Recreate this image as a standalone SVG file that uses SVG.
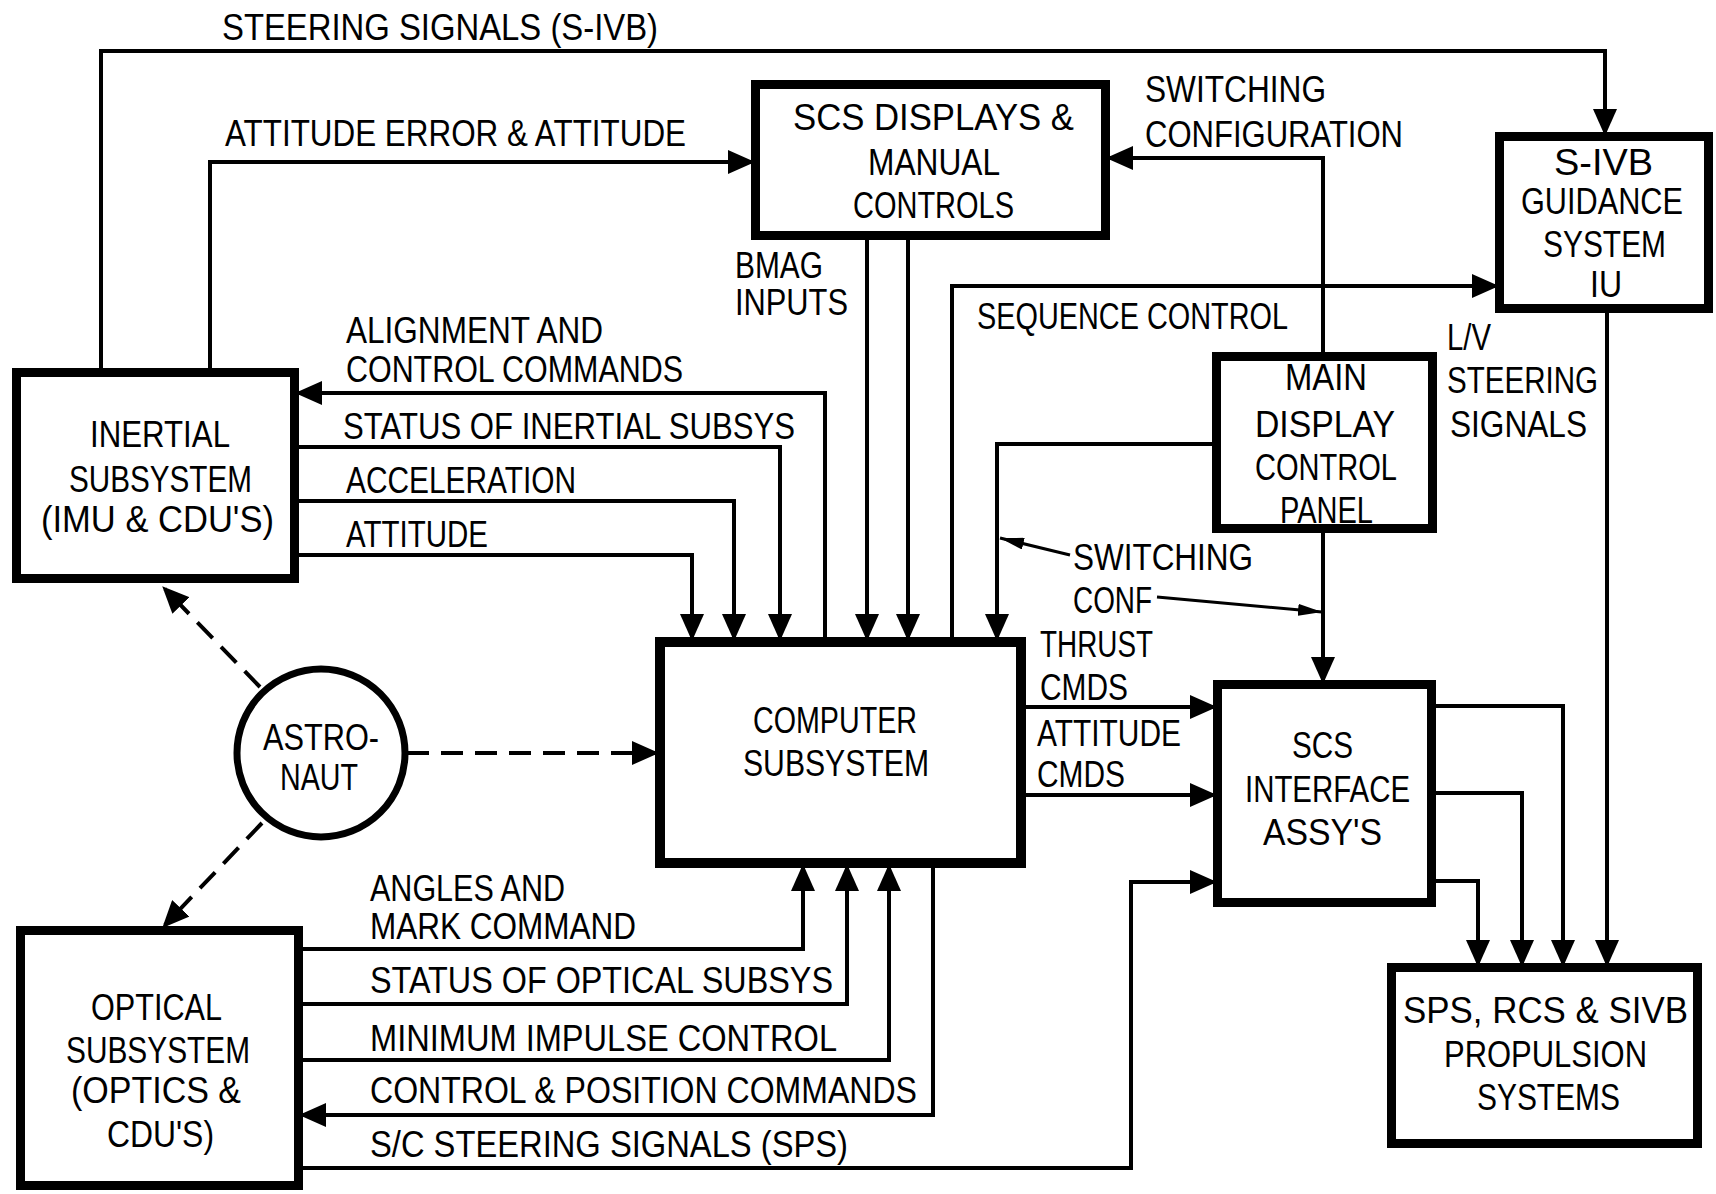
<svg xmlns="http://www.w3.org/2000/svg" width="1716" height="1194" viewBox="0 0 1716 1194">
<style>
.box{fill:none;stroke:#000;stroke-width:9}
.ln{fill:none;stroke:#000;stroke-width:4;stroke-linejoin:miter}
.ar{marker-end:url(#ah)}
.dash{stroke-dasharray:22 12}
.thin{fill:none;stroke:#000;stroke-width:3;marker-end:url(#sah)}
text{font-family:"Liberation Sans",Arial,sans-serif;font-size:37px;fill:#000}
</style>
<defs>
<marker id="ah" markerUnits="userSpaceOnUse" viewBox="0 0 27 24" markerWidth="27" markerHeight="24" refX="23" refY="12" orient="auto">
<path d="M0,0 L27,12 L0,24 z" fill="#000"/>
</marker>
<marker id="sah" markerUnits="userSpaceOnUse" viewBox="0 0 24 12" markerWidth="24" markerHeight="12" refX="24" refY="6" orient="auto">
<path d="M0,0 L24,6 L0,12 z" fill="#000"/>
</marker>
</defs>
<rect width="1716" height="1194" fill="#fff"/>

<g id="connectors">
<path class="ln ar" d="M101,368 V51 H1605 V132"/>
<path class="ln ar" d="M210,368 V162 H751"/>
<path class="ln ar" d="M825,638 V393 H299"/>
<path class="ln ar" d="M299,447 H780 V637"/>
<path class="ln ar" d="M299,501 H734 V637"/>
<path class="ln ar" d="M299,555 H692 V637"/>
<path class="ln ar" d="M867,240 V637"/>
<path class="ln ar" d="M908,240 V637"/>
<path class="ln ar" d="M952,638 V286 H1495"/>
<path class="ln ar" d="M1323,352 V158 H1110"/>
<path class="ln ar" d="M1212,444 H997 V637"/>
<path class="ln ar" d="M1323,533 V680"/>
<path class="ln ar" d="M1607,313 V963"/>
<path class="ln ar" d="M1026,707 H1213"/>
<path class="ln ar" d="M1026,795 H1213"/>
<path class="ln ar" d="M1436,706 H1563 V963"/>
<path class="ln ar" d="M1436,793 H1522 V963"/>
<path class="ln ar" d="M1436,881 H1478 V963"/>
<path class="ln ar" d="M303,949 H803 V868"/>
<path class="ln ar" d="M303,1004 H847 V868"/>
<path class="ln ar" d="M303,1060 H889 V868"/>
<path class="ln ar" d="M933,868 V1115 H303"/>
<path class="ln ar" d="M303,1168 H1131 V882 H1213"/>
<path class="ln ar dash" d="M260,687 L165,589"/>
<path class="ln ar dash" d="M262,823 L165,925"/>
<path class="ln ar dash" d="M407,753 H655"/>
<path class="thin" d="M1070,555 L1000,538"/>
<path class="thin" d="M1157,597 L1322,612"/>
</g>

<g id="labels">
<text x="222" y="40" textLength="436" lengthAdjust="spacingAndGlyphs">STEERING SIGNALS (S-IVB)</text>
<text x="225" y="146" textLength="461" lengthAdjust="spacingAndGlyphs">ATTITUDE ERROR &amp; ATTITUDE</text>
<text x="1145" y="102" textLength="181" lengthAdjust="spacingAndGlyphs">SWITCHING</text>
<text x="1145" y="147" textLength="258" lengthAdjust="spacingAndGlyphs">CONFIGURATION</text>
<text x="735" y="278" textLength="88" lengthAdjust="spacingAndGlyphs">BMAG</text>
<text x="735" y="315" textLength="113" lengthAdjust="spacingAndGlyphs">INPUTS</text>
<text x="977" y="329" textLength="311" lengthAdjust="spacingAndGlyphs">SEQUENCE CONTROL</text>
<text x="346" y="343" textLength="257" lengthAdjust="spacingAndGlyphs">ALIGNMENT AND</text>
<text x="346" y="382" textLength="337" lengthAdjust="spacingAndGlyphs">CONTROL COMMANDS</text>
<text x="1447" y="350" textLength="44" lengthAdjust="spacingAndGlyphs">L/V</text>
<text x="1447" y="393" textLength="151" lengthAdjust="spacingAndGlyphs">STEERING</text>
<text x="1450" y="437" textLength="137" lengthAdjust="spacingAndGlyphs">SIGNALS</text>
<text x="343" y="439" textLength="452" lengthAdjust="spacingAndGlyphs">STATUS OF INERTIAL  SUBSYS</text>
<text x="346" y="493" textLength="230" lengthAdjust="spacingAndGlyphs">ACCELERATION</text>
<text x="346" y="547" textLength="142" lengthAdjust="spacingAndGlyphs">ATTITUDE</text>
<text x="1073" y="570" textLength="180" lengthAdjust="spacingAndGlyphs">SWITCHING</text>
<text x="1073" y="613" textLength="79" lengthAdjust="spacingAndGlyphs">CONF</text>
<text x="1040" y="657" textLength="113" lengthAdjust="spacingAndGlyphs">THRUST</text>
<text x="1040" y="700" textLength="88" lengthAdjust="spacingAndGlyphs">CMDS</text>
<text x="1037" y="746" textLength="144" lengthAdjust="spacingAndGlyphs">ATTITUDE</text>
<text x="1037" y="787" textLength="88" lengthAdjust="spacingAndGlyphs">CMDS</text>
<text x="370" y="901" textLength="195" lengthAdjust="spacingAndGlyphs">ANGLES AND</text>
<text x="370" y="939" textLength="266" lengthAdjust="spacingAndGlyphs">MARK COMMAND</text>
<text x="370" y="993" textLength="463" lengthAdjust="spacingAndGlyphs">STATUS OF OPTICAL SUBSYS</text>
<text x="370" y="1051" textLength="467" lengthAdjust="spacingAndGlyphs">MINIMUM IMPULSE CONTROL</text>
<text x="370" y="1103" textLength="547" lengthAdjust="spacingAndGlyphs">CONTROL &amp; POSITION COMMANDS</text>
<text x="370" y="1157" textLength="478" lengthAdjust="spacingAndGlyphs">S/C STEERING SIGNALS (SPS)</text>
</g>

<g id="scs-displays">
<rect class="box" x="755.5" y="84.5" width="350" height="151"/>
<text x="793" y="130" textLength="281" lengthAdjust="spacingAndGlyphs">SCS DISPLAYS &amp;</text>
<text x="868" y="175" textLength="132" lengthAdjust="spacingAndGlyphs">MANUAL</text>
<text x="853" y="218" textLength="161" lengthAdjust="spacingAndGlyphs">CONTROLS</text>
</g>

<g id="s-ivb-guidance">
<rect class="box" x="1499.5" y="136.5" width="209" height="172"/>
<text x="1554" y="175" textLength="99" lengthAdjust="spacingAndGlyphs">S-IVB</text>
<text x="1521" y="214" textLength="162" lengthAdjust="spacingAndGlyphs">GUIDANCE</text>
<text x="1543" y="257" textLength="123" lengthAdjust="spacingAndGlyphs">SYSTEM</text>
<text x="1590" y="297" textLength="32" lengthAdjust="spacingAndGlyphs">IU</text>
</g>

<g id="main-display">
<rect class="box" x="1216.5" y="356.5" width="216" height="172"/>
<text x="1285" y="390" textLength="82" lengthAdjust="spacingAndGlyphs">MAIN</text>
<text x="1255" y="437" textLength="140" lengthAdjust="spacingAndGlyphs">DISPLAY</text>
<text x="1255" y="480" textLength="142" lengthAdjust="spacingAndGlyphs">CONTROL</text>
<text x="1280" y="523" textLength="93" lengthAdjust="spacingAndGlyphs">PANEL</text>
</g>

<g id="inertial">
<rect class="box" x="16.5" y="372.5" width="278" height="206"/>
<text x="90" y="447" textLength="140" lengthAdjust="spacingAndGlyphs">INERTIAL</text>
<text x="69" y="492" textLength="183" lengthAdjust="spacingAndGlyphs">SUBSYSTEM</text>
<text x="41" y="532" textLength="233" lengthAdjust="spacingAndGlyphs">(IMU &amp; CDU'S)</text>
</g>

<g id="astronaut">
<circle cx="321" cy="753" r="84" fill="none" stroke="#000" stroke-width="7"/>
<text x="263" y="750" textLength="116" lengthAdjust="spacingAndGlyphs">ASTRO-</text>
<text x="280" y="790" textLength="78" lengthAdjust="spacingAndGlyphs">NAUT</text>
</g>

<g id="computer">
<rect class="box" x="660" y="642" width="361" height="221" style="stroke-width:10"/>
<text x="753" y="733" textLength="164" lengthAdjust="spacingAndGlyphs">COMPUTER</text>
<text x="743" y="776" textLength="186" lengthAdjust="spacingAndGlyphs">SUBSYSTEM</text>
</g>

<g id="scs-interface">
<rect class="box" x="1217.5" y="684.5" width="214" height="218"/>
<text x="1292" y="758" textLength="61" lengthAdjust="spacingAndGlyphs">SCS</text>
<text x="1245" y="802" textLength="165" lengthAdjust="spacingAndGlyphs">INTERFACE</text>
<text x="1263" y="845" textLength="119" lengthAdjust="spacingAndGlyphs">ASSY'S</text>
</g>

<g id="optical">
<rect class="box" x="20.5" y="930.5" width="278" height="255"/>
<text x="91" y="1020" textLength="131" lengthAdjust="spacingAndGlyphs">OPTICAL</text>
<text x="66" y="1063" textLength="184" lengthAdjust="spacingAndGlyphs">SUBSYSTEM</text>
<text x="71" y="1103" textLength="170" lengthAdjust="spacingAndGlyphs">(OPTICS &amp;</text>
<text x="107" y="1147" textLength="107" lengthAdjust="spacingAndGlyphs">CDU'S)</text>
</g>

<g id="propulsion">
<rect class="box" x="1391.5" y="967.5" width="306" height="176"/>
<text x="1403" y="1023" textLength="285" lengthAdjust="spacingAndGlyphs">SPS, RCS &amp; SIVB</text>
<text x="1444" y="1067" textLength="203" lengthAdjust="spacingAndGlyphs">PROPULSION</text>
<text x="1477" y="1110" textLength="143" lengthAdjust="spacingAndGlyphs">SYSTEMS</text>
</g>
</svg>
